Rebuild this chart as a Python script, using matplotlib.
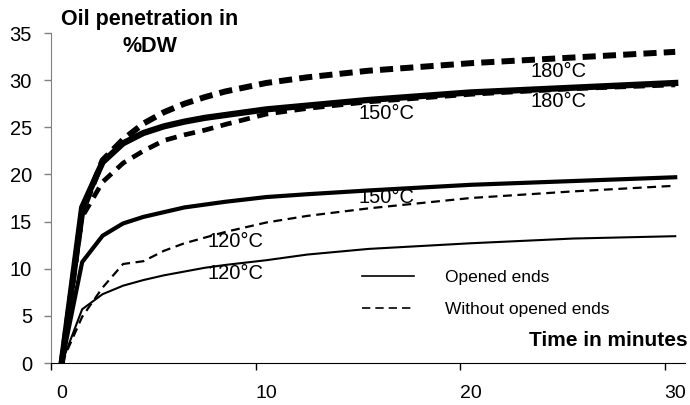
import matplotlib
matplotlib.use("Agg")
import matplotlib.pyplot as plt
from matplotlib.lines import Line2D

plt.rcParams['font.family'] = ['Liberation Sans', 'DejaVu Sans']

# time in minutes
minutes = [0, 1, 2, 3, 4, 5, 6, 7, 8, 10, 12, 15, 20, 25, 30]

# oil penetration in %DW
closed_180 = [0, 16.0, 21.5, 23.7, 25.4, 26.6, 27.5, 28.2, 28.8, 29.7, 30.3, 31.0, 31.8, 32.4, 33.0]
opened_180 = [0, 16.5, 21.3, 23.3, 24.4, 25.1, 25.6, 26.0, 26.3, 26.9, 27.3, 27.9, 28.7, 29.2, 29.7]
closed_150 = [0, 15.5, 19.2, 21.2, 22.5, 23.6, 24.2, 24.7, 25.3, 26.4, 27.0, 27.7, 28.5, 29.1, 29.5]
opened_150 = [0, 10.7, 13.5, 14.8, 15.5, 16.0, 16.5, 16.8, 17.1, 17.6, 17.9, 18.3, 18.9, 19.3, 19.7]
closed_120 = [0, 4.9, 8.0, 10.5, 10.8, 11.9, 12.7, 13.3, 13.9, 14.9, 15.6, 16.4, 17.5, 18.2, 18.8]
opened_120 = [0, 5.7, 7.3, 8.2, 8.8, 9.3, 9.7, 10.1, 10.4, 10.9, 11.5, 12.1, 12.7, 13.2, 13.45]

x_labels = [0, 10, 20, 30]
y_ticks = [0, 5, 10, 15, 20, 25, 30, 35]

# temperature labels: (text, x, y)
temp_labels = [("180°C", 24.3, 30.9), ("180°C", 24.3, 27.7),
               ("150°C", 15.9, 26.5), ("150°C", 15.9, 17.6),
               ("120°C", 8.5, 12.9), ("120°C", 8.5, 9.5)]

fig = plt.figure(figsize=(6.9, 4.05), dpi=100)
ax = fig.add_axes([0.0746, 0.1037, 0.9188, 0.8148])

ax.plot(minutes, closed_180, color='black', lw=4.3, dashes=(2.2, 1.2))
ax.plot(minutes, opened_180, color='black', lw=4.5)
ax.plot(minutes, closed_150, color='black', lw=3.4, dashes=(2.4, 1.6))
ax.plot(minutes, opened_150, color='black', lw=3.0)
ax.plot(minutes, closed_120, color='black', lw=1.6, dashes=(4, 2.5))
ax.plot(minutes, opened_120, color='black', lw=1.5)

for txt, x, y in temp_labels:
    ax.text(x, y, txt, fontsize=14.5, ha='center', va='center')

ax.set_xlim(-0.5, 30.5)
ax.set_ylim(0, 35)

# Excel style: ticks sit half a unit left of the labels
ax.set_xticks([v - 0.5 for v in x_labels])
ax.set_xticklabels([])
ax.set_xticks(x_labels, minor=True)
ax.set_xticklabels([str(v) for v in x_labels], minor=True)
ax.tick_params(axis='x', which='major', direction='out', length=5, width=1, color='black')
ax.tick_params(axis='x', which='minor', length=0, pad=15.5, labelsize=14)

ax.set_yticks(y_ticks)
ax.tick_params(axis='y', direction='out', length=5, width=1, color='#808080', pad=9, labelsize=14.5)

ax.spines['top'].set_visible(False)
ax.spines['right'].set_visible(False)
ax.spines['left'].set_color('#808080')
ax.spines['bottom'].set_color('black')

handles = [Line2D([], [], color='black', lw=1.2),
           Line2D([], [], color='black', lw=1.2, dashes=(5, 3))]
ax.legend(handles, ['Opened ends', 'Without opened ends'], frameon=False,
          fontsize=12.5, handlelength=3.0, handletextpad=1.8, labelspacing=1.0,
          loc='upper left', bbox_to_anchor=(0.465, 0.33))

fig.text(0.217, 1 - 20 / 405, "Oil penetration in", fontsize=15.5, fontweight='bold',
         ha='center', va='center')
fig.text(0.217, 1 - 47 / 405, "%DW", fontsize=15.5, fontweight='bold',
         ha='center', va='center')
fig.text(0.996, 1 - 341 / 405, "Time in minutes", fontsize=15, fontweight='bold',
         ha='right', va='center')

fig.savefig("out.png", dpi=100)
